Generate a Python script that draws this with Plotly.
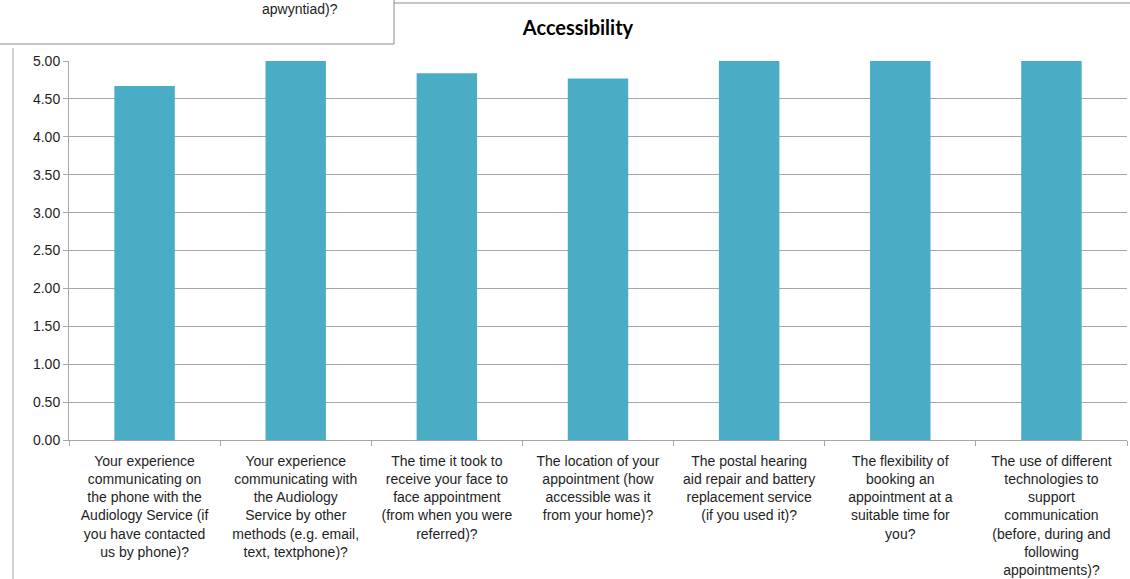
import plotly.graph_objects as go

categories = [
    "Your experience<br>communicating on<br>the phone with the<br>Audiology Service (if<br>you have contacted<br>us by phone)?",
    "Your experience<br>communicating with<br>the Audiology<br>Service by other<br>methods (e.g. email,<br>text, textphone)?",
    "The time it took to<br>receive your face to<br>face appointment<br>(from when you were<br>referred)?",
    "The location of your<br>appointment (how<br>accessible was it<br>from your home)?",
    "The postal hearing<br>aid repair and battery<br>replacement service<br>(if you used it)?",
    "The flexibility of<br>booking an<br>appointment at a<br>suitable time for<br>you?",
    "The use of different<br>technologies to<br>support<br>communication<br>(before, during and<br>following<br>appointments)?",
]
values = [4.67, 5.00, 4.84, 4.77, 5.00, 5.00, 5.00]
y_ticks = [0, 0.5, 1.0, 1.5, 2.0, 2.5, 3.0, 3.5, 4.0, 4.5, 5.0]

W, H = 1130, 579
ML, MR, MT, MB = 69, 3, 61, 139
PW, PH = W - ML - MR, H - MT - MB

def px(x):
    return (x - ML) / PW

def py(y):
    return 1 - (y - MT) / PH

fig = go.Figure(go.Bar(x=categories, y=values, marker_color="#4BACC6",
                       marker_line_width=0))

grey = "#A6A6A6"
txt = "#1E1E1E"
fig.update_layout(
    width=W, height=H,
    margin=dict(l=ML, r=MR, t=MT, b=MB, autoexpand=False),
    paper_bgcolor="white", plot_bgcolor="white",
    bargap=0.6,
    showlegend=False,
    font=dict(family="Liberation Sans, Arial", size=14, color=txt),
    title=dict(text="<b>Accessibility</b>", x=578 / W, xanchor="center",
               xref="container", y=1 - 28 / H, yanchor="middle", yref="container",
               font=dict(family="Lato", size=20, color="black")),
    xaxis=dict(showline=True, linecolor=grey, linewidth=1, ticks="outside",
               tickson="boundaries", ticklen=5, tickcolor=grey, showgrid=False,
               tickangle=0, ticklabelstandoff=8, tickfont=dict(size=14, color=txt)),
    yaxis=dict(range=[0, 5], tickvals=y_ticks, tickformat=".2f", showline=True,
               linecolor=grey, linewidth=1, ticks="outside", ticklen=5,
               tickcolor=grey, showgrid=True, gridcolor=grey, gridwidth=1,
               zeroline=False, tickfont=dict(size=14, color=txt)),
)

line_dark = dict(color="#8C8C8C", width=1)
line_light = dict(color="#A6A6A6", width=1)
shapes = [
    dict(type="line", xref="paper", yref="paper", x0=px(394), x1=px(394), y0=py(0), y1=py(44), line=line_dark),
    dict(type="line", xref="paper", yref="paper", x0=px(0), x1=px(394), y0=py(44), y1=py(44), line=line_dark),
    dict(type="line", xref="paper", yref="paper", x0=px(394), x1=px(1130), y0=py(3), y1=py(3), line=line_dark),
    dict(type="line", xref="paper", yref="paper", x0=px(13), x1=px(13), y0=py(48), y1=py(579), line=line_light),
]
fig.update_layout(shapes=shapes)
fig.add_annotation(text="apwyntiad)?", xref="paper", yref="paper", x=px(300), y=py(9),
                   showarrow=False, xanchor="center", yanchor="middle",
                   font=dict(family="Liberation Sans, Arial", size=14, color=txt))

fig.write_html("out.html", config={"displayModeBar": False},
               post_script="document.body.style.margin='0';document.body.style.overflow='hidden';")
